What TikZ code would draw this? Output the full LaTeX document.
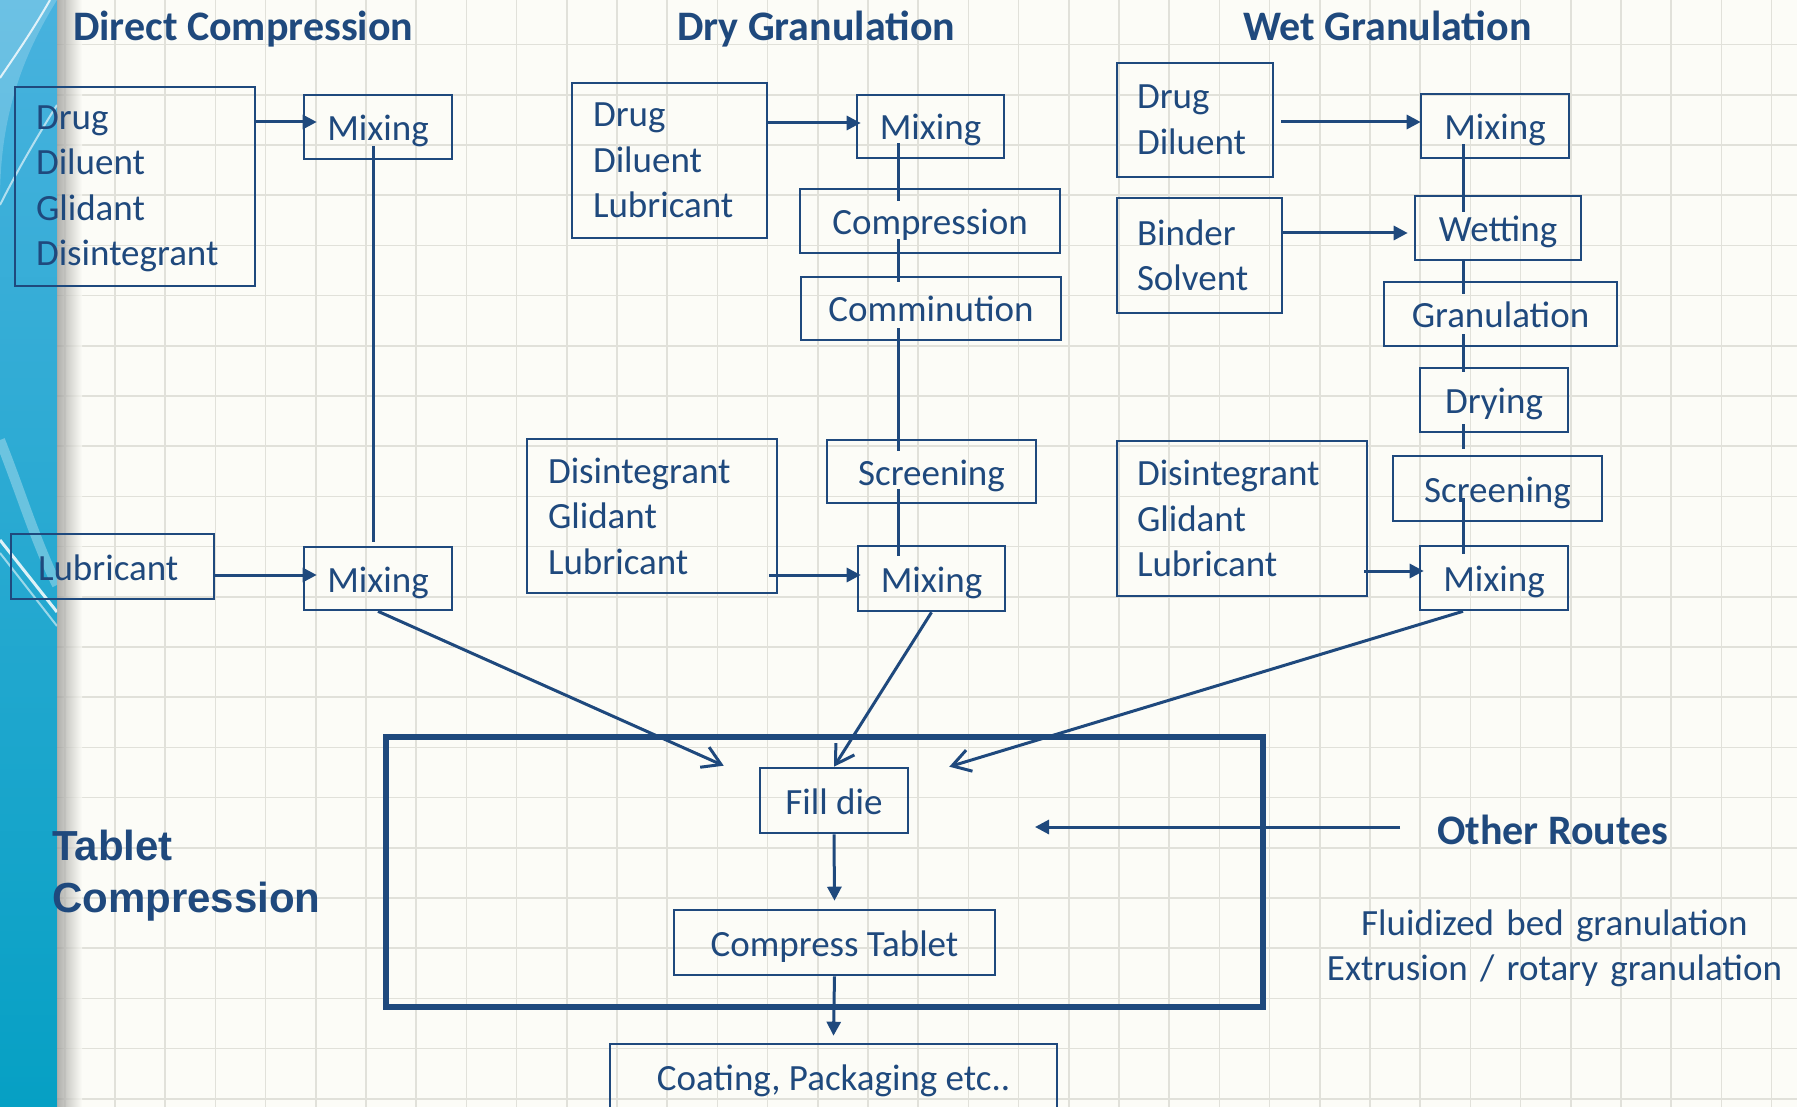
\documentclass[tikz,border=0pt]{standalone}
\usepackage{fontspec}
\setmainfont{Carlito}
\newfontfamily\tabletfont{Liberation Sans}
\usetikzlibrary{arrows.meta,calc}
\definecolor{ink}{RGB}{31,73,125}
\definecolor{paper}{RGB}{252,252,247}
\definecolor{gridline}{RGB}{225,225,218}
\definecolor{bandtop}{RGB}{72,178,222}
\definecolor{bandbot}{RGB}{6,160,196}
\begin{document}
\begin{tikzpicture}[x=1pt,y=-1pt,
  box/.style={draw=ink, line width=2.6pt, text=ink, inner sep=0pt, font=\fontsize{37}{45.5}\selectfont},
  onebox/.style={box, text height=31pt, text depth=4pt},
  listbox/.style={box, align=left},
  conn/.style={draw=ink, line width=3pt},
  fwd/.style={conn, -{Triangle[length=14pt,width=14pt]}},
  feed/.style={conn, -{Straight Barb[length=18pt,width=22pt]}},
  heading/.style={text=ink, inner sep=0pt, font=\fontsize{42}{50}\selectfont\bfseries, anchor=base west}
]
\useasboundingbox (0,0) rectangle (1797,1107);
\clip (0,0) rectangle (1797,1107);

% paper and grid
\fill[paper] (0,0) rectangle (1797,1107);
\foreach \i in {0,...,35} {
  \draw[gridline, line width=1.6pt] ({14.6+50.2*\i},0) -- ({14.6+50.2*\i},1107);
}
\foreach \j in {1,...,22} {
  \draw[gridline, line width=1.6pt] (0,{-5.6+50.2*\j}) -- (1797,{-5.6+50.2*\j});
}

% blue side band with its shadow and light streaks
\shade[top color=bandtop, bottom color=bandbot] (0,0) rectangle (57,1107);
\shade[left color=black!40!paper, right color=paper, opacity=0.75] (57,0) rectangle (82,1107);
\begin{scope}
  \clip (0,0) rectangle (57,1107);
  \fill[white, opacity=0.2] (57,0) .. controls (20,60) and (0,120) .. (0,200) -- (0,0) -- cycle;
  \draw[white, opacity=0.8, line width=2pt] (50,0) .. controls (30,35) and (12,60) .. (0,78);
  \draw[white, opacity=0.6, line width=2pt] (57,105) .. controls (35,140) and (15,175) .. (0,205);
  \draw[white, opacity=0.3, line width=10pt] (0,440) .. controls (20,490) and (35,540) .. (57,585);
  \draw[white, opacity=0.85, line width=3pt] (0,540) -- (57,612);
  \draw[white, opacity=0.55, line width=2pt] (0,553) -- (57,626);
\end{scope}

% headings
\node[heading] (hdc) at (73,41) {Direct Compression};
\node[heading] (hdg) at (677,41) {Dry Granulation};
\node[heading] (hwg) at (1243,41) {Wet Granulation};

% direct compression
\node[listbox, minimum width=240pt, minimum height=199pt, text width=198pt] (dcin) at (135,186.5) {\rule{0pt}{28pt}Drug\\Diluent\\Glidant\\Disintegrant};
\node[onebox, minimum width=148pt, minimum height=64pt] (dcmix1) at (378,127) {Mixing};
\node[onebox, minimum width=203pt, minimum height=65pt, text width=149pt, align=left] (dclub) at (112.5,566.5) {Lubricant};
\node[onebox, minimum width=148pt, minimum height=63pt] (dcmix2) at (378,578.5) {Mixing};

% dry granulation
\node[listbox, minimum width=195pt, minimum height=155pt, text width=153pt] (dgin) at (669.5,160.5) {Drug\\Diluent\\Lubricant};
\node[onebox, minimum width=147pt, minimum height=63pt] (dgmix1) at (930.5,126.5) {Mixing};
\node[onebox, minimum width=260pt, minimum height=64pt] (dgcomp) at (930,221) {Compression};
\node[onebox, minimum width=260pt, minimum height=63pt] (dgmill) at (931,308.5) {Comminution};
\node[onebox, minimum width=209pt, minimum height=63pt] (dgscr) at (931.5,471.5) {Screening};
\node[onebox, minimum width=147pt, minimum height=65pt] (dgmix2) at (931.5,578.5) {Mixing};
\node[listbox, minimum width=250pt, minimum height=154pt, text width=208pt] (dgadd) at (652,516) {Disintegrant\\Glidant\\Lubricant};

% wet granulation
\node[listbox, minimum width=156pt, minimum height=114pt, text width=116pt] (wgin) at (1195,120) {Drug\\Diluent};
\node[onebox, minimum width=148pt, minimum height=64pt] (wgmix1) at (1495,126) {Mixing};
\node[listbox, minimum width=165pt, minimum height=115pt, text width=125pt] (wgbind) at (1199.5,255.5) {Binder\\Solvent};
\node[onebox, minimum width=166pt, minimum height=64pt] (wgwet) at (1498,228) {Wetting};
\node[onebox, minimum width=233pt, minimum height=64pt] (wggran) at (1500.5,314) {Granulation};
\node[onebox, minimum width=148pt, minimum height=64pt] (wgdry) at (1494,400) {Drying};
\node[onebox, minimum width=209pt, minimum height=65pt] (wgscr) at (1497.5,488.5) {Screening};
\node[onebox, minimum width=148pt, minimum height=64pt] (wgmix2) at (1494,578) {Mixing};
\node[listbox, minimum width=250pt, minimum height=155pt, text width=210pt] (wgadd) at (1242,518.5) {Disintegrant\\Glidant\\Lubricant};

% tablet compression stage
\node[draw=ink, line width=5.5pt, minimum width=877pt, minimum height=270pt, inner sep=0pt] (tcbox) at (824.5,872) {};
\node[onebox, minimum width=148pt, minimum height=65pt] (fill) at (834,800.5) {Fill die};
\node[onebox, minimum width=321pt, minimum height=65pt] (press) at (834.5,942.5) {Compress Tablet};
\node[onebox, minimum width=447pt, minimum height=66pt] (coat) at (833.5,1077) {Coating, Packaging etc..};
\node[text=ink, inner sep=0pt, font=\tabletfont\fontsize{42}{52}\selectfont\bfseries, text width=320pt, align=left, anchor=base west] (tclabel) at (52,860) {Tablet\\Compression};

% other routes
\node[heading, font=\fontsize{42}{50}\selectfont\bfseries] (other) at (1437,844) {Other Routes};
\node[text=ink, inner sep=0pt, font=\fontsize{37}{45}\selectfont, text width=470pt, align=center, anchor=base] (routes) at (1554.5,935) {Fluidized bed granulation\\Extrusion / rotary granulation};
\coordinate (routein) at (1035,827);

% column lines
\coordinate (dcx) at (373,0);
\coordinate (dgx) at (898,0);
\coordinate (wgx) at (1463,0);

% direct compression connectors
\draw[fwd] (dcin.east |- 0,122) -- ($(dcmix1.west |- 0,122)+(14,0)$);
\draw[conn] ($(dcmix1.south -| dcx)+(0,-14)$) -- ($(dcmix2.north -| dcx)+(0,-4)$);
\draw[fwd] (dclub.east |- 0,575) -- ($(dcmix2.west |- 0,575)+(14,0)$);

% dry granulation connectors
\draw[fwd] (dgin.east |- 0,123) -- ($(dgmix1.west |- 0,123)+(5,0)$);
\draw[conn] ($(dgmix1.south -| dgx)+(0,-16)$) -- ($(dgcomp.north -| dgx)+(0,13)$);
\draw[conn] ($(dgcomp.south -| dgx)+(0,-15)$) -- ($(dgmill.north -| dgx)+(0,6)$);
\draw[conn] ($(dgmill.south -| dgx)+(0,-13)$) -- ($(dgscr.north -| dgx)+(0,12)$);
\draw[conn] ($(dgscr.south -| dgx)+(0,-15)$) -- ($(dgmix2.north -| dgx)+(0,11)$);
\draw[fwd] ($(dgadd.east |- 0,575)+(-9,0)$) -- ($(dgmix2.west |- 0,575)+(4,0)$);

% wet granulation connectors
\draw[fwd] ($(wgin.east |- 0,122)+(7,0)$) -- ($(wgmix1.west |- 0,122)+(1,0)$);
\draw[fwd] (wgbind.east |- 0,233) -- ($(wgwet.west |- 0,233)+(-6,0)$);
\draw[conn] ($(wgmix1.south -| wgx)+(0,-15)$) -- ($(wgwet.north -| wgx)+(0,17)$);
\draw[conn] (wgwet.south -| wgx) -- ($(wggran.north -| wgx)+(0,13)$);
\draw[conn] ($(wggran.south -| wgx)+(0,-13)$) -- ($(wgdry.north -| wgx)+(0,5)$);
\draw[conn] ($(wgdry.south -| wgx)+(0,-9)$) -- ($(wgscr.north -| wgx)+(0,-6)$);
\draw[conn] ($(wgscr.south -| wgx)+(0,-24)$) -- ($(wgmix2.north -| wgx)+(0,9)$);
\draw[fwd] ($(wgadd.east |- 0,571)+(-4,0)$) -- ($(wgmix2.west |- 0,571)+(5,0)$);

% feeds into the compression stage
\draw[feed] (dcmix2.south) -- ($(fill.north west)+(-35,-1)$);
\draw[feed] (dgmix2.south) -- (fill.north);
\draw[feed] (wgmix2.south -| wgx) -- ($(fill.north east)+(40,0)$);
\draw[fwd] ($(other.west |- 0,827)+(-37,0)$) -- (routein);
\draw[fwd] (fill.south) -- ($(press.north)+(0,-8)$);
\draw[fwd] (press.south) -- ($(coat.north)+(0,-7)$);
\end{tikzpicture}
\end{document}
